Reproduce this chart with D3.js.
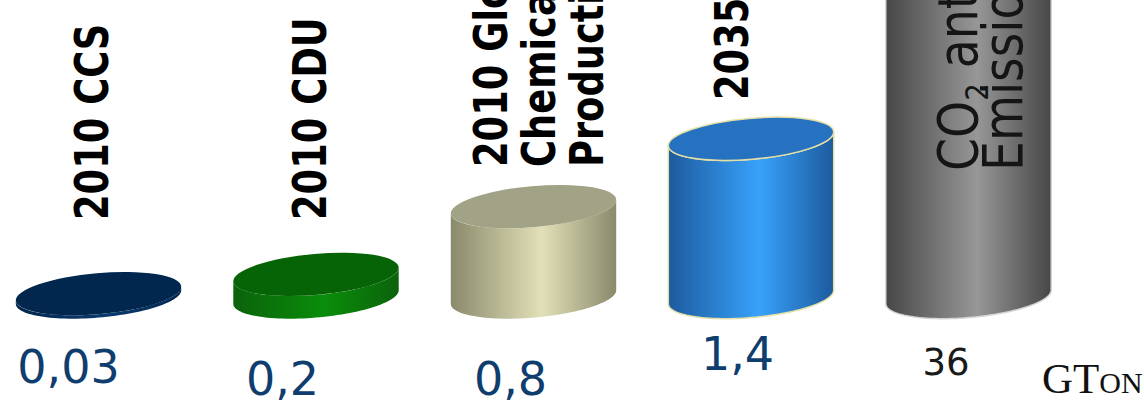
<!DOCTYPE html>
<html>
<head>
<meta charset="utf-8">
<script src="https://cdn.jsdelivr.net/npm/d3@7"></script>
<style>
  html, body { margin: 0; padding: 0; background: #fff; }
  svg { display: block; }
</style>
</head>
<body>
<div id="chart"></div>
<script>
// Annual CO2 volumes (GTon): storage, utilisation, chemicals and total emissions
const categories = ["2010 CCS", "2010 CDU", "2010 Global Chemicals Production", "2035 CDU", "CO₂ anthropogenic Emissions"];
const values = [0.03, 0.2, 0.8, 1.4, 36];
const valueLabels = ["0,03", "0,2", "0,8", "1,4", "36"];
const categoryLines = [
  ["2010 CCS"],
  ["2010 CDU"],
  ["2010 Global", "Chemicals", "Production"],
  ["2035 CDU"],
  ["CO₂ anthropogenic", "Emissions"]
];
const unitLabel = "GTons";

// Cylinder palette: top face, side edge, side highlight
const topColors  = ["#02274e", "#066406", "#a2a286", "#2672c0", "#6e6e6e"];
const edgeColors = ["#02274e", "#0b620b", "#8a8a6c", "#1d5a9e", "#474747"];
const midColors  = ["#0b3a6e", "#0a8d0a", "#e2e0b8", "#38a2fb", "#979797"];
const strokeColors = ["none", "none", "none", "#e4dfa6", "#d4d4d4"];

// Layout
const W = 1144, H = 412;
const baseY = 297;            // centre of the cylinder bases
const rx = 83, ry = 20.5, tilt = -5 * Math.PI / 180;
const valueDx = [-30, -33.5, -23, -13.5, -22.5];
const valueY = [383, 395, 395, 370, 375];
const valueColors = ["#0e3d6e", "#0e3d6e", "#0e3d6e", "#0e3d6e", "#1a1a1a"];
const valueSizes = [46, 46, 46, 46, 37];
const catDx = [9.5, 10, -26.5, -3, 8];
const catBottom = [220, 220, 167, 100, 171];

const svg = d3.select("#chart").append("svg")
  .attr("width", W).attr("height", H);

const x = d3.scalePoint().domain(categories).range([98.5, 968.5]);
const y = d3.scaleLinear().domain([0, 1.4]).range([baseY, baseY - 158.2]);

const defs = svg.append("defs");
categories.forEach((c, i) => {
  const g = defs.append("linearGradient")
    .attr("id", "side" + i)
    .attr("x1", 0).attr("x2", 1).attr("y1", 0).attr("y2", 0);
  g.append("stop").attr("offset", "0%").attr("stop-color", edgeColors[i]);
  g.append("stop").attr("offset", "55%").attr("stop-color", midColors[i]);
  g.append("stop").attr("offset", "100%").attr("stop-color", edgeColors[i]);
});

function ellipsePoint(cx, cy, t) {
  return [
    cx + rx * Math.cos(t) * Math.cos(tilt) - ry * Math.sin(t) * Math.sin(tilt),
    cy + rx * Math.cos(t) * Math.sin(tilt) + ry * Math.sin(t) * Math.cos(tilt)
  ];
}

// Side wall: front half of the base ellipse up to the front half of the top ellipse
function bodyPath(cx, yTop, yBot) {
  const t0 = Math.atan2(-ry * Math.sin(tilt), rx * Math.cos(tilt));
  const n = 60;
  const pts = [];
  for (let k = 0; k <= n; k++) pts.push(ellipsePoint(cx, yBot, t0 + Math.PI * k / n));
  for (let k = n; k >= 0; k--) pts.push(ellipsePoint(cx, yTop, t0 + Math.PI * k / n));
  return d3.line()(pts) + "Z";
}

const cyl = svg.append("g").selectAll("g")
  .data(categories)
  .join("g");

cyl.append("path")
  .attr("d", (c, i) => bodyPath(x(c), y(values[i]), y(0)))
  .attr("fill", (c, i) => `url(#side${i})`)
  .attr("stroke", (c, i) => strokeColors[i])
  .attr("stroke-width", 1.5);

cyl.append("ellipse")
  .attr("cx", c => x(c))
  .attr("cy", (c, i) => y(values[i]))
  .attr("rx", rx).attr("ry", ry)
  .attr("transform", (c, i) => `rotate(${tilt * 180 / Math.PI},${x(c)},${y(values[i])})`)
  .attr("fill", (c, i) => topColors[i])
  .attr("stroke", (c, i) => strokeColors[i])
  .attr("stroke-width", 1.5);

// Category captions, written upwards
const captions = svg.append("g");
categories.forEach((c, i) => {
  const last = i === categories.length - 1;
  categoryLines[i].forEach((line, j) => {
    const bx = x(c) + catDx[i] + j * (last ? 45 : 48);
    const t = captions.append("text")
      .attr("transform", `translate(${bx},${catBottom[i]}) rotate(-90) scale(${last ? 0.86 : 0.8},1)`)
      .attr("font-family", "DejaVu Sans, Verdana, sans-serif")
      .attr("font-size", last ? 55 : 46)
      .attr("font-weight", last ? "normal" : "bold")
      .attr("fill", last ? "#151515" : "#000");
    if (last && line.startsWith("CO₂")) {
      t.append("tspan").text("CO");
      t.append("tspan").attr("font-size", 32).attr("dy", 11).text("2");
      t.append("tspan").attr("dy", -11).text(line.slice(3));
    } else {
      t.text(line);
    }
  });
});

// Value labels beneath the cylinders
svg.append("g").selectAll("text")
  .data(categories)
  .join("text")
  .attr("x", (c, i) => x(c) + valueDx[i])
  .attr("y", (c, i) => valueY[i])
  .attr("text-anchor", "middle")
  .attr("font-family", "DejaVu Sans, Verdana, sans-serif")
  .attr("font-size", (c, i) => valueSizes[i])
  .attr("fill", (c, i) => valueColors[i])
  .text((c, i) => valueLabels[i]);

svg.append("text")
  .attr("x", 1042).attr("y", 393)
  .attr("font-family", "Liberation Serif, DejaVu Serif, serif")
  .attr("font-size", 43)
  .style("font-variant", "small-caps")
  .attr("fill", "#111")
  .text(unitLabel);
</script>
</body>
</html>
